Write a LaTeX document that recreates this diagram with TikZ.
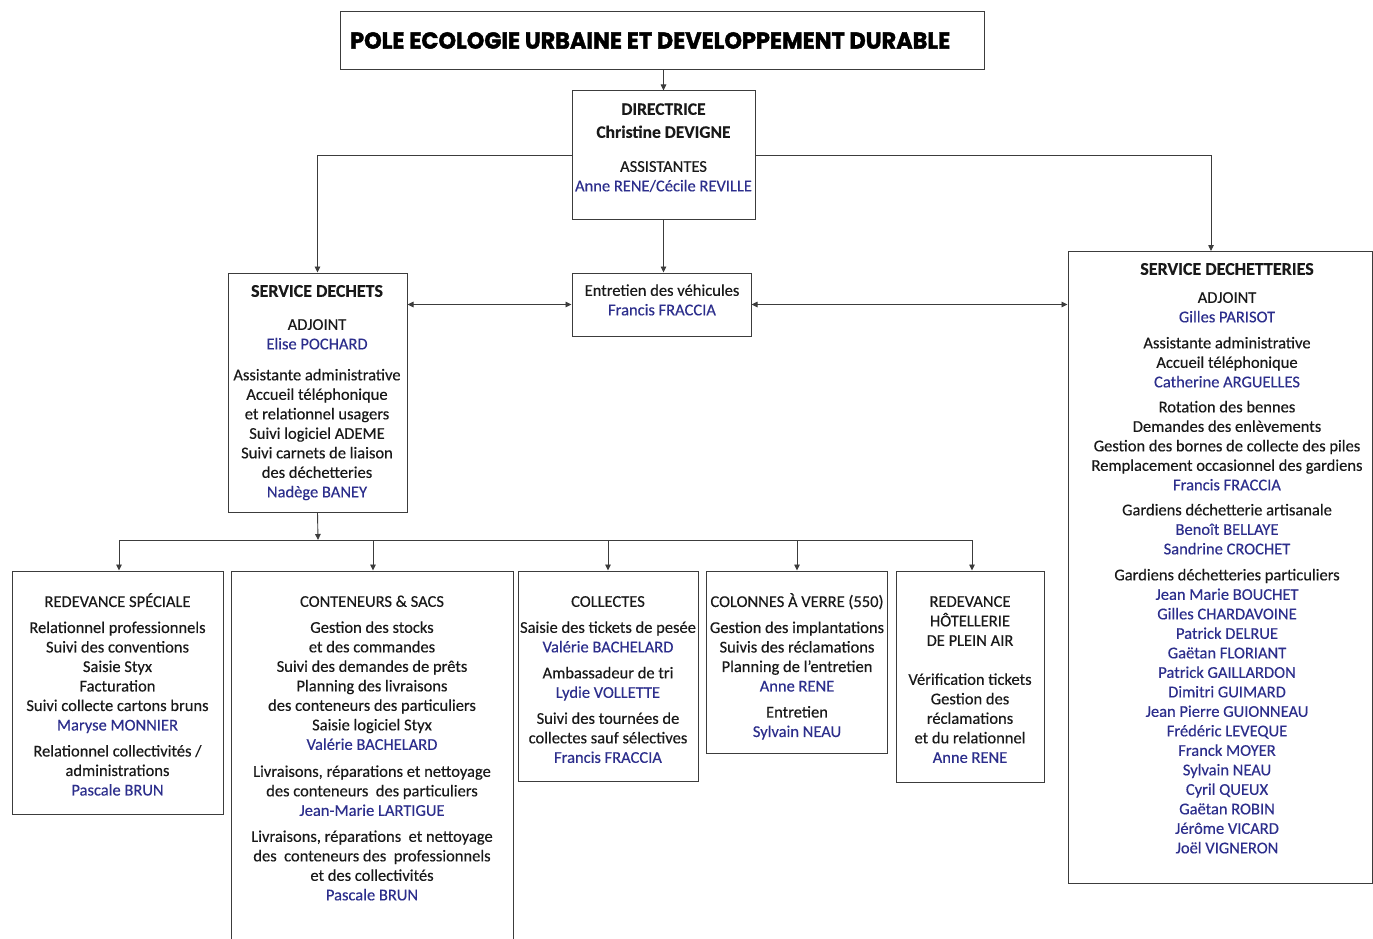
\documentclass[tikz,border=0pt]{standalone}
\usepackage{fontspec}
\setmainfont{Carlito}[FakeBold=0.3]
\newfontfamily\titlefont{Poppins}[FakeBold=1.6]
\usetikzlibrary{arrows.meta}
\definecolor{nameblue}{RGB}{44,46,140}
\definecolor{txt}{RGB}{25,25,25}
\definecolor{lin}{RGB}{60,60,60}
\newcommand{\nm}[1]{\textcolor{nameblue}{#1}}
\newcommand{\hd}[1]{{\fontsize{18}{19.5}\selectfont\bfseries #1}}
\newcommand{\hdd}[1]{{\fontsize{17.5}{19.5}\selectfont\bfseries #1}}
\tikzset{
  box/.style={draw=lin, line width=1pt, fill=white, inner sep=0pt},
  tx/.style={anchor=north, inner sep=0pt, align=center, text=txt,
    font=\fontsize{16.5}{19.5}\selectfont},
  arr/.style={draw=lin, line width=0.9pt, -{Triangle[length=6pt,width=5.5pt]}},
  arrr/.style={draw=lin, line width=0.9pt, {Triangle[length=6pt,width=5.5pt]}-{Triangle[length=6pt,width=5.5pt]}},
  ln/.style={draw=lin, line width=0.9pt}
}
\begin{document}
\begin{tikzpicture}[x=1pt,y=-1pt]
\useasboundingbox[fill=white] (0,0) rectangle (1373,939);

% boxes
\node[box, minimum width=644, minimum height=58] (title) at (662,41) {};
\node[box, minimum width=183, minimum height=128] (dir) at (663.5,155) {};
\node[box, minimum width=179, minimum height=63] (ent) at (661.5,304.5) {};
\node[box, minimum width=179, minimum height=239] (dech) at (317.5,392.5) {};
\node[box, minimum width=304, minimum height=632] (dtt) at (1220,567) {};
\node[box, minimum width=211, minimum height=243] (rs) at (117.5,692.5) {};
\node[box, minimum width=282, minimum height=380] (cs) at (372,761) {};
\node[box, minimum width=180, minimum height=210] (col) at (608,676) {};
\node[box, minimum width=181, minimum height=182] (cav) at (796.5,662) {};
\node[box, minimum width=148, minimum height=211] (rh) at (970,676.5) {};

% texts
\node[anchor=west, inner sep=0pt, text=black] (titletext) at (350,40.5)
  {\resizebox{600pt}{16.5pt}{\titlefont\bfseries POLE ECOLOGIE URBAINE ET DEVELOPPEMENT DURABLE}};

\node[tx] (dirt) at (663.5,101) {\strut\hdd{DIRECTRICE}\\[3.5pt]
  \hdd{Christine DEVIGNE}\\[14.5pt]
  ASSISTANTES\\
  \nm{Anne RENE/Cécile REVILLE}};

\node[tx] (entt) at (662,282) {\strut Entretien des véhicules\\
  \nm{Francis FRACCIA}};

\node[tx] (decht) at (317,283) {\strut\hd{SERVICE DECHETS}\\[13.5pt]
  ADJOINT\\
  \nm{Elise POCHARD}\\[11.5pt]
  Assistante administrative\\
  Accueil téléphonique\\
  et relationnel usagers\\
  Suivi logiciel ADEME\\
  Suivi carnets de liaison\\
  des déchetteries\\
  \nm{Nadège BANEY}};

\node[tx] (dttt) at (1227,261) {\strut\hd{SERVICE DECHETTERIES}\\[8.5pt]
  ADJOINT\\
  \nm{Gilles PARISOT}\\[6.5pt]
  Assistante administrative\\
  Accueil téléphonique\\
  \nm{Catherine ARGUELLES}\\[5.5pt]
  Rotation des bennes\\
  Demandes des enlèvements\\
  Gestion des bornes de collecte des piles\\
  Remplacement occasionnel des gardiens\\
  \nm{Francis FRACCIA}\\[5.5pt]
  Gardiens déchetterie artisanale\\
  \nm{Benoît BELLAYE}\\
  \nm{Sandrine CROCHET}\\[6.5pt]
  Gardiens déchetteries particuliers\\
  \nm{Jean Marie BOUCHET}\\
  \nm{Gilles CHARDAVOINE}\\
  \nm{Patrick DELRUE}\\
  \nm{Gaëtan FLORIANT}\\
  \nm{Patrick GAILLARDON}\\
  \nm{Dimitri GUIMARD}\\
  \nm{Jean Pierre GUIONNEAU}\\
  \nm{Frédéric LEVEQUE}\\
  \nm{Franck MOYER}\\
  \nm{Sylvain NEAU}\\
  \nm{Cyril QUEUX}\\
  \nm{Gaëtan ROBIN}\\
  \nm{Jérôme VICARD}\\
  \nm{Joël VIGNERON}};

\node[tx] (rst) at (117.5,593) {\strut REDEVANCE SPÉCIALE\\[6.5pt]
  Relationnel professionnels\\
  Suivi des conventions\\
  Saisie Styx\\
  Facturation\\
  Suivi collecte cartons bruns\\
  \nm{Maryse MONNIER}\\[6.5pt]
  Relationnel collectivités /\\
  administrations\\
  \nm{Pascale BRUN}};

\node[tx] (cst) at (372,593) {\strut CONTENEURS \& SACS\\[6.5pt]
  Gestion des stocks\\
  et des commandes\\
  Suivi des demandes de prêts\\
  Planning des livraisons\\
  des conteneurs des particuliers\\
  Saisie logiciel Styx\\
  \nm{Valérie BACHELARD}\\[7.5pt]
  Livraisons, réparations et nettoyage\\
  des conteneurs\ \ des particuliers\\
  \nm{Jean-Marie LARTIGUE}\\[6.5pt]
  Livraisons, réparations\ \ et nettoyage\\
  des\ \ conteneurs des\ \ professionnels\\
  et des collectivités\\
  \nm{Pascale BRUN}};

\node[tx] (colt) at (608,593) {\strut COLLECTES\\[6.5pt]
  Saisie des tickets de pesée\\
  \nm{Valérie BACHELARD}\\[6.5pt]
  Ambassadeur de tri\\
  \nm{Lydie VOLLETTE}\\[6.5pt]
  Suivi des tournées de\\
  collectes sauf sélectives\\
  \nm{Francis FRACCIA}};

\node[tx] (cavt) at (797,593) {\strut COLONNES À VERRE (550)\\[6.5pt]
  Gestion des implantations\\
  Suivis des réclamations\\
  Planning de l’entretien\\
  \nm{Anne RENE}\\[6.5pt]
  Entretien\\
  \nm{Sylvain NEAU}};

\node[tx] (rht) at (970,593) {\strut REDEVANCE\\
  HÔTELLERIE\\
  DE PLEIN AIR\\[19.5pt]
  Vérification tickets\\
  Gestion des\\
  réclamations\\
  et du relationnel\\
  \nm{Anne RENE}};

% connectors
\draw[arr] (dir.north |- title.south) -- (dir.north);
\draw[arr] (dir.south) -- (dir.south |- ent.north);
\draw[arr] (dir.west) -| (dech.north);
\coordinate (dttin) at (1211,251);
\draw[arr] (dir.east) -| (dttin);
\draw[arrr] (ent.west) -- (ent.west -| dech.east);
\draw[arrr] (ent.east) -- (ent.east -| dtt.west);

\coordinate (bus) at (318,540);
\coordinate (b1) at (119,540);
\coordinate (b2) at (373,540);
\coordinate (b3) at (608,540);
\coordinate (b4) at (797,540);
\coordinate (b5) at (972,540);
\draw[arr] (dech.south) -- (bus);
\draw[ln] (b1) -- (b5);
\draw[arr] (b1) -- (b1 |- rs.north);
\draw[arr] (b2) -- (b2 |- cs.north);
\draw[arr] (b3) -- (b3 |- col.north);
\draw[arr] (b4) -- (b4 |- cav.north);
\draw[arr] (b5) -- (b5 |- rh.north);
\end{tikzpicture}
\end{document}
